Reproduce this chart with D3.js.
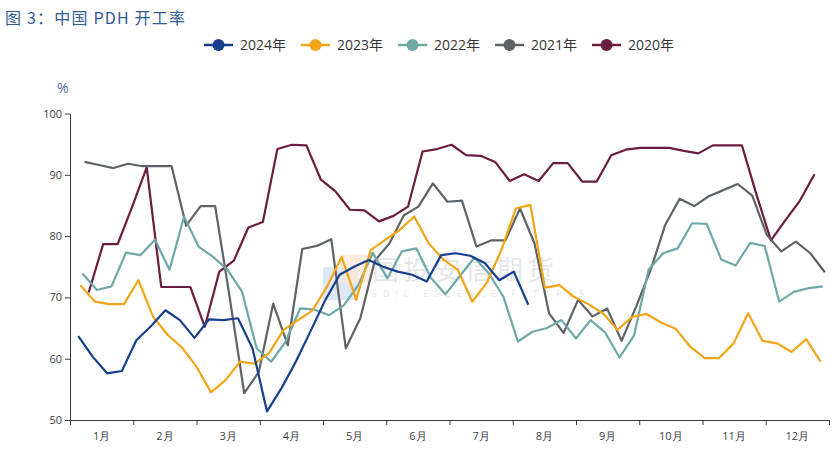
<!DOCTYPE html>
<html>
<head>
<meta charset="utf-8">
<script src="https://cdn.jsdelivr.net/npm/d3@7"></script>
<style>
  body { margin: 0; background: #ffffff; }
  svg { display: block; }
</style>
</head>
<body>
<svg id="chart" width="835" height="451"></svg>
<script>
// ---------------- DATA ----------------
const months = ["1月","2月","3月","4月","5月","6月","7月","8月","9月","10月","11月","12月"];
const yTicks = [50, 60, 70, 80, 90, 100];
const seriesNames = ["2024年", "2023年", "2022年", "2021年", "2020年"];
const startDates = ["2024-01-05", "2023-01-06", "2022-01-07", "2021-01-08", "2020-01-10"];

const v2024 = [63.7, 60.3, 57.6, 58.0, 63.0, 65.3, 67.9, 66.3, 63.4, 66.4, 66.3, 66.6, 61.7, 51.4, 55.2, 59.6,
               64.5, 69.5, 73.7, 75.0, 76.1, 75.0, 74.2, 73.7, 72.6, 76.9, 77.2, 76.8, 75.6, 72.8, 74.2, 68.8];
const v2023 = [72.0, 69.3, 68.9, 68.9, 72.8, 66.9, 63.9, 61.8, 58.7, 54.5, 56.5, 59.5, 59.2, 60.9, 64.7, 66.3,
               67.9, 71.8, 76.6, 69.6, 77.7, 79.4, 81.0, 83.2, 78.8, 76.2, 74.5, 69.3, 72.4, 77.7, 84.5, 85.1,
               71.6, 72.0, 70.1, 68.9, 67.4, 64.7, 66.8, 67.3, 65.9, 64.9, 62.0, 60.1, 60.1, 62.5, 67.4, 62.9,
               62.5, 61.1, 63.2, 59.5];
const v2022 = [73.9, 71.2, 71.8, 77.3, 76.9, 79.4, 74.5, 83.2, 78.3, 76.6, 74.5, 70.9, 61.7, 59.5, 62.8, 68.2,
               68.0, 67.1, 68.7, 72.0, 77.3, 73.1, 77.5, 78.0, 73.2, 70.5, 73.5, 76.5, 73.9, 70.1, 62.8, 64.4,
               65.0, 66.3, 63.3, 66.3, 64.3, 60.2, 63.8, 74.5, 77.2, 78.0, 82.1, 82.0, 76.2, 75.2, 78.9, 78.4,
               69.3, 70.9, 71.5, 71.8];
const v2021 = [92.1, 91.6, 91.1, 91.8, 91.4, 91.4, 91.4, 81.7, 84.9, 84.9, 70.0, 54.4, 57.8, 69.0, 62.2, 77.9,
               78.4, 79.5, 61.7, 66.6, 76.0, 78.8, 83.4, 84.8, 88.6, 85.6, 85.8, 78.3, 79.3, 79.3, 84.5, 78.8,
               67.4, 64.2, 69.6, 66.9, 68.2, 62.9, 68.5, 74.5, 81.8, 86.1, 84.9, 86.5, 87.5, 88.5, 86.6, 80.2,
               77.5, 79.1, 77.2, 74.1];
const v2020 = [70.8, 78.7, 78.7, 84.8, 91.2, 71.7, 71.7, 71.7, 65.2, 74.2, 76.0, 81.4, 82.3, 94.2, 94.9, 94.8,
               89.2, 87.3, 84.3, 84.2, 82.4, 83.3, 84.8, 93.8, 94.2, 94.9, 93.2, 93.1, 92.1, 89.0, 90.1, 89.0,
               91.9, 91.9, 88.9, 88.9, 93.2, 94.1, 94.4, 94.4, 94.4, 93.9, 93.5, 94.8, 94.8, 94.8, 86.8, 79.3,
               82.6, 85.8, 90.1];
const seriesValues = [v2024, v2023, v2022, v2021, v2020];

// ---------------- STYLE ----------------
const colors = ["#173f8e", "#f2a516", "#6fa8a7", "#5e6367", "#6a1d3f"];

const svg = d3.select("#chart");
const W = 835, H = 451;
const plot = { left: 70, right: 829, top: 113.5, bottom: 420 };

const parse = d3.timeParse("%Y-%m-%d");
const xDay = d3.scaleLinear().domain([0, 366]).range([plot.left, plot.right]);
const xMonth = d3.scaleBand().domain(months).range([plot.left, plot.right]);
const xEdge = d3.scaleLinear().domain([0, 12]).range([plot.left, plot.right]);
const y = d3.scaleLinear().domain([50, 100]).range([plot.bottom, plot.top]);

// Title
svg.append("text")
  .attr("x", 5).attr("y", 24)
  .attr("font-family", "'Noto Sans CJK SC', 'Noto Sans', sans-serif")
  .attr("font-size", 16)
  .attr("letter-spacing", 1.2)
  .attr("fill", "#2f5a96")
  .text("图 3：中国 PDH 开工率");

// Watermark
const wm = svg.append("g").attr("opacity", 0.55);
wm.append("rect").attr("x", 323).attr("y", 267).attr("width", 35).attr("height", 33).attr("fill", "#a9c3e6").attr("opacity", 0.7);
wm.append("rect").attr("x", 340).attr("y", 255).attr("width", 30).attr("height", 28).attr("fill", "#f6d3b0").attr("opacity", 0.7);
wm.append("text").attr("x", 372).attr("y", 280)
  .attr("font-family", "'Noto Sans CJK SC', sans-serif").attr("font-size", 27)
  .attr("letter-spacing", 4).attr("fill", "#cfd3d6").text("国投安信期货");
wm.append("text").attr("x", 372).attr("y", 297)
  .attr("font-family", "'DejaVu Sans', sans-serif").attr("font-size", 8)
  .attr("letter-spacing", 6).attr("fill", "#d6d9dc").text("SDIC ESSENCE FUTURES");

// "%" unit
svg.append("text")
  .attr("x", 57).attr("y", 93)
  .attr("font-family", "'Open Sans', 'DejaVu Sans', sans-serif")
  .attr("font-size", 14)
  .attr("fill", "#4a6fa5")
  .text("%");

// Y axis
const yAxis = svg.append("g")
  .attr("transform", `translate(${plot.left},0)`)
  .call(d3.axisLeft(y).tickValues(yTicks).tickSize(5).tickSizeOuter(0).tickPadding(3));
yAxis.selectAll("path, line").attr("stroke", "#3a3a3a");
yAxis.selectAll("text")
  .attr("font-family", "'Open Sans', 'DejaVu Sans', sans-serif")
  .attr("font-size", 11).attr("fill", "#404040");

// X axis (ticks at month edges)
const xAxis = svg.append("g")
  .attr("transform", `translate(0,${plot.bottom})`)
  .call(d3.axisBottom(xEdge).tickValues(d3.range(0, 13)).tickFormat("").tickSize(5).tickSizeOuter(0));
xAxis.selectAll("path, line").attr("stroke", "#3a3a3a");

svg.append("g").selectAll("text")
  .data(months).join("text")
  .attr("x", d => xMonth(d) + xMonth.bandwidth() / 2)
  .attr("y", 440)
  .attr("text-anchor", "middle")
  .attr("font-family", "'Open Sans', 'DejaVu Sans', sans-serif")
  .attr("font-size", 11).attr("fill", "#404040")
  .text(d => d);

// Lines
const line = d3.line().x(d => d.x).y(d => d.y);
const order = [4, 3, 2, 1, 0];
order.forEach(k => {
  const s = parse(startDates[k]);
  const pts = seriesValues[k].map((v, i) => {
    const dt = d3.timeDay.offset(s, 7 * i);
    const doy = d3.timeDay.count(d3.timeYear(dt), dt);
    return { x: xDay(doy), y: y(v) };
  });
  svg.append("path")
    .attr("d", line(pts))
    .attr("fill", "none")
    .attr("stroke", colors[k])
    .attr("stroke-width", 2.2)
    .attr("stroke-linejoin", "round");
});

// Legend
const lg = svg.append("g");
seriesNames.forEach((name, i) => {
  const x0 = 204 + i * 97;
  const g = lg.append("g").attr("transform", `translate(${x0},45)`);
  g.append("line").attr("x1", 0).attr("x2", 29).attr("y1", 0).attr("y2", 0)
    .attr("stroke", colors[i]).attr("stroke-width", 2.5);
  g.append("circle").attr("cx", 14.5).attr("cy", 0).attr("r", 6).attr("fill", colors[i]);
  g.append("text").attr("x", 36).attr("y", 5)
    .attr("font-family", "'Open Sans', 'Noto Sans CJK SC', sans-serif")
    .attr("font-size", 14).attr("fill", "#333333")
    .text(name);
});
</script>
</body>
</html>
